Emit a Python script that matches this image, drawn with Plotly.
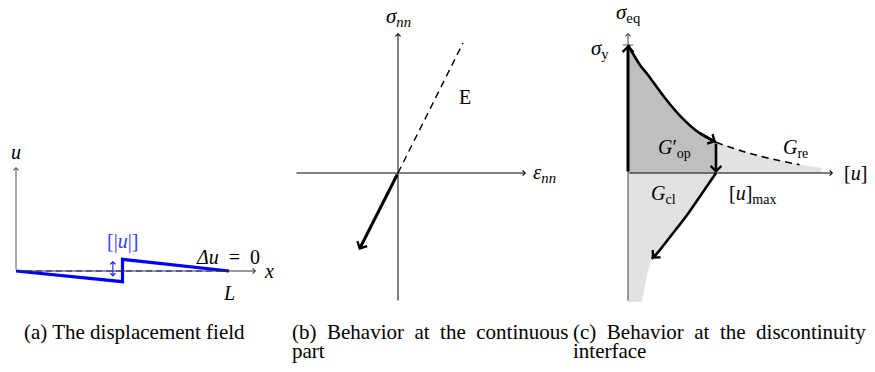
import plotly.graph_objects as go

# ---- (a) displacement field (x in units of L) ----
a_x = [0, 0.5, 0.5, 1.0]
a_u = [0, -0.107, 0.117, 0]
a_jump_x = 0.455
a_jump_u = [0.10, -0.07]

# ---- (b) continuous part ----
b_eps_el = [0, 0.65]
b_sig_el = [0, 1.30]
b_eps_un = [0, -0.39]
b_sig_un = [0, -0.77]

# ---- (c) discontinuity interface ----
c_u_soft = [0, 0.136, 0.227, 0.42, 0.614, 0.795, 1.0]
c_s_soft = [1.0, 0.844, 0.766, 0.586, 0.43, 0.32, 0.24]
c_u_re = [1.0, 1.3, 1.6, 1.95]
c_s_re = [0.24, 0.17, 0.115, 0.065]
c_u_re_tail = [2.2]
c_s_re_tail = [0.04]
c_u_cl = [1.0, 0.86, 0.69, 0.50, 0.34, 0.27]
c_s_cl = [0, -0.14, -0.31, -0.48, -0.62, -0.67]
c_u_cl_tail = [0.216, 0.159]
c_s_cl_tail = [-0.797, -1.008]
sigma_y = 1.0

NB = "\u00a0"
captions = [
    ("(a) The displacement field", 22, 332),
    (f"(b){NB} Behavior{NB} at{NB} the{NB} continuous", 290, 332),
    ("part", 290, 351),
    (f"(c){NB} Behavior{NB} at{NB} the{NB} discontinuity", 571, 332),
    ("interface", 571, 351),
]

W, H = 875, 372
FONT = "Liberation Serif"
DARK = "#bfbfbf"
LIGHT = "#e2e2e2"
BLUE = "#0000ff"
SP = "\u2002"


def place(ox, oy, sx, sy, x0, x1, y0=0, y1=310):
    # axis domain + range so that data origin lands on pixel (ox, oy)
    xa = dict(domain=[x0 / W, x1 / W], range=[(x0 - ox) / sx, (x1 - ox) / sx],
              visible=False, fixedrange=True)
    ya = dict(domain=[1 - y1 / H, 1 - y0 / H], range=[(oy - y1) / sy, (oy - y0) / sy],
              visible=False, fixedrange=True)
    return xa, ya


def arrow(ax_id, x0, y0, x1, y1, width=1, head=4, size=1.0, color="black", both=False):
    xr, yr = "x" + ax_id, "y" + ax_id
    return dict(x=x1, y=y1, ax=x0, ay=y0, xref=xr, yref=yr, axref=xr, ayref=yr,
                text="", showarrow=True, arrowhead=head, startarrowhead=head,
                arrowsize=size, startarrowsize=size, arrowwidth=width,
                arrowcolor=color, arrowside="end+start" if both else "end")


def label(ax_id, x, y, text, size=20, color="black", xanchor="center"):
    return dict(x=x, y=y, xref="x" + ax_id, yref="y" + ax_id, text=text,
                showarrow=False, xanchor=xanchor, yanchor="middle",
                font=dict(family=FONT, size=size, color=color))


fig = go.Figure()

# panel (a)
fig.add_trace(go.Scatter(x=[0, 1.0], y=[0, 0], mode="lines", xaxis="x", yaxis="y",
                         line=dict(color=BLUE, width=1.2, dash="6px,4px")))
fig.add_trace(go.Scatter(x=a_x, y=a_u, mode="lines", xaxis="x", yaxis="y",
                         line=dict(color=BLUE, width=3.2)))

# panel (b)
fig.add_trace(go.Scatter(x=b_eps_el, y=b_sig_el, mode="lines", xaxis="x2", yaxis="y2",
                         line=dict(color="black", width=1.4, dash="7px,5px")))

# panel (c) fills
fig.add_trace(go.Scatter(x=[0] + c_u_soft + [1.0, 0], y=[0] + c_s_soft + [0, 0],
                         mode="lines", fill="toself", fillcolor=DARK, line=dict(width=0),
                         xaxis="x3", yaxis="y3"))
fig.add_trace(go.Scatter(x=[1.0] + c_u_re + c_u_re_tail + [c_u_re_tail[-1], 1.0],
                         y=[0] + c_s_re + c_s_re_tail + [0, 0],
                         mode="lines", fill="toself", fillcolor=LIGHT, line=dict(width=0),
                         xaxis="x3", yaxis="y3"))
fig.add_trace(go.Scatter(x=[0] + c_u_cl + c_u_cl_tail + [0, 0],
                         y=[0] + c_s_cl + c_s_cl_tail + [c_s_cl_tail[-1], 0],
                         mode="lines", fill="toself", fillcolor=LIGHT, line=dict(width=0),
                         xaxis="x3", yaxis="y3"))
# sigma_y tick
fig.add_trace(go.Scatter(x=[-0.06, 0.06], y=[sigma_y, sigma_y], mode="lines",
                         line=dict(color="#555555", width=1), xaxis="x3", yaxis="y3"))
# panel (c) curves
fig.add_trace(go.Scatter(x=c_u_soft, y=c_s_soft, mode="lines", line_shape="spline",
                         line=dict(color="black", width=2.6), xaxis="x3", yaxis="y3"))
fig.add_trace(go.Scatter(x=c_u_re, y=c_s_re, mode="lines", line_shape="spline",
                         line=dict(color="black", width=1.6, dash="7px,5px"),
                         xaxis="x3", yaxis="y3"))
fig.add_trace(go.Scatter(x=c_u_cl, y=c_s_cl, mode="lines", line_shape="spline",
                         line=dict(color="black", width=2.6), xaxis="x3", yaxis="y3"))

xa1, ya1 = place(16, 271, 213, 100, 0, 290)
xa2, ya2 = place(398, 173, 100, 100, 290, 570)
xa3, ya3 = place(628, 173, 88, 128, 570, 875)

ann = [
    # axes of (a)
    arrow("", 0, 0, 1.127, 0, color="#333333"),
    arrow("", 0, 0, 0, 1.04, color="#555555"),
    arrow("", a_jump_x, a_jump_u[1], a_jump_x, a_jump_u[0], color=BLUE, both=True),
    label("", 0, 1.19, "<i>u</i>"),
    label("", 1.19, 0.0, "<i>x</i>"),
    label("", 0.5, 0.30, "[|<i>u</i>|]", color="#3a3aff"),
    label("", 0.995, 0.145, f"<i>Δu</i>{SP}={SP}0"),
    label("", 1.0, -0.22, "<i>L</i>"),
    # axes of (b)
    arrow("2", -1.03, 0, 1.28, 0),
    arrow("2", 0, -1.29, 0, 1.40),
    arrow("2", b_eps_un[0], b_sig_un[0], b_eps_un[1], b_sig_un[1], width=3, size=0.7),
    label("2", 0, 1.56, "<i>σ</i><sub><i>nn</i></sub>", size=21),
    label("2", 1.33, 0, "<i>ε</i><sub><i>nn</i></sub>", size=21, xanchor="left"),
    label("2", 0.67, 0.76, "E"),
    # axes of (c)
    arrow("3", 0, -1.008, 0, 1.094, color="#444444"),
    arrow("3", 0, 0, 2.33, 0),
    arrow("3", 0, 0, 0, sigma_y, width=3, size=0.7),
    arrow("3", c_u_soft[-2], c_s_soft[-2], c_u_soft[-1], c_s_soft[-1], width=2.6, size=0.8),
    arrow("3", 1.0, c_s_soft[-1], 1.0, 0, width=2.6, size=0.8),
    arrow("3", c_u_cl[-2], c_s_cl[-2], c_u_cl[-1], c_s_cl[-1], width=2.6, size=0.8),
    label("3", 0, 1.25, "<i>σ</i><sub>eq</sub>", size=21),
    label("3", -0.32, 0.97, "<i>σ</i><sub>y</sub>", size=21),
    label("3", 0.53, 0.19, "<i>G</i>′<sub>op</sub>"),
    label("3", 1.9, 0.19, "<i>G</i><sub>re</sub>"),
    label("3", 0.40, -0.17, "<i>G</i><sub>cl</sub>"),
    label("3", 1.41, -0.17, "[<i>u</i>]<sub>max</sub>"),
    label("3", 2.58, 0, "[<i>u</i>]"),
]

for text, px, py in captions:
    ann.append(dict(x=px / W, y=1 - py / H, xref="paper", yref="paper", text=text,
                    showarrow=False, xanchor="left", yanchor="middle",
                    font=dict(family=FONT, size=21, color="black")))

fig.update_layout(
    width=W, height=H, margin=dict(l=0, r=0, t=0, b=0),
    paper_bgcolor="white", plot_bgcolor="rgba(0,0,0,0)", showlegend=False,
    xaxis=xa1, yaxis=ya1, xaxis2=xa2, yaxis2=ya2, xaxis3=xa3, yaxis3=ya3,
    annotations=ann,
)

fig.write_html("out.html", config={"displayModeBar": False},
               post_script="document.body.style.margin='0';")
